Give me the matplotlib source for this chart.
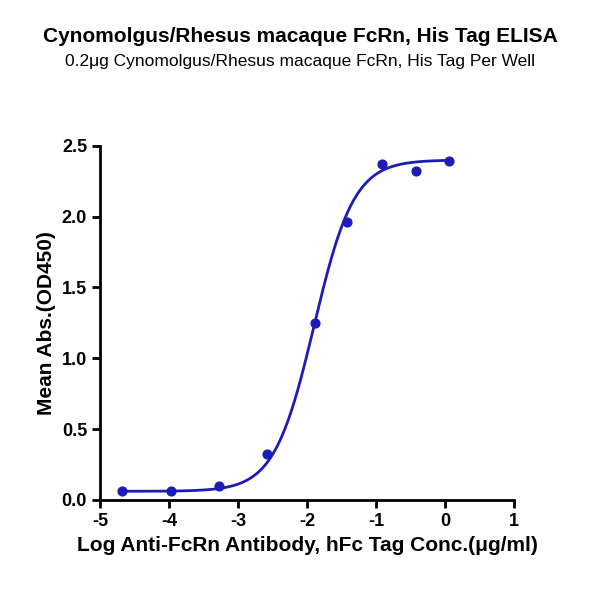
import numpy as np
import matplotlib
matplotlib.use("Agg")
import matplotlib.pyplot as plt

plt.rcParams["font.family"] = ["Liberation Sans", "DejaVu Sans"]
plt.rcParams["axes.unicode_minus"] = False

log_conc = [-4.68, -3.98, -3.28, -2.58, -1.88, -1.42, -0.92, -0.42, 0.05]
od450 = [0.06, 0.065, 0.095, 0.32, 1.25, 1.96, 2.37, 2.32, 2.39]

# 4PL fit parameters
bottom, top, log_ec50, hill = 0.06, 2.40, -1.90, 1.5

color = "#1c1cb8"
fig = plt.figure(figsize=(6, 6), dpi=100)
ax = fig.add_axes([0.167, 0.167, 0.69, 0.59])

xs = np.linspace(min(log_conc), max(log_conc), 300)
ys = bottom + (top - bottom) / (1 + 10 ** (hill * (log_ec50 - xs)))
ax.plot(xs, ys, color=color, lw=2)
ax.scatter(log_conc, od450, color=color, s=40, zorder=3)

ax.set_xlim(-5, 1)
ax.set_ylim(0, 2.5)
ax.set_xticks(range(-5, 2))
ax.set_yticks([0.0, 0.5, 1.0, 1.5, 2.0, 2.5])
ax.set_yticklabels(["0.0", "0.5", "1.0", "1.5", "2.0", "2.5"])
for s in ["top", "right"]:
    ax.spines[s].set_visible(False)
for s in ["left", "bottom"]:
    ax.spines[s].set_linewidth(2)
ax.tick_params(width=2, length=6, labelsize=13)
for lab in ax.get_xticklabels() + ax.get_yticklabels():
    lab.set_fontweight("bold")

ax.set_xlabel("Log Anti-FcRn Antibody, hFc Tag Conc.(μg/ml)", fontsize=15, fontweight="bold")
ax.set_ylabel("Mean Abs.(OD450)", fontsize=15, fontweight="bold")
fig.text(0.5, 0.93, "Cynomolgus/Rhesus macaque FcRn, His Tag ELISA", ha="center",
         fontsize=15, fontweight="bold")
fig.text(0.5, 0.89, "0.2μg Cynomolgus/Rhesus macaque FcRn, His Tag Per Well", ha="center",
         fontsize=12.5)

fig.savefig("out.png", dpi=100)
